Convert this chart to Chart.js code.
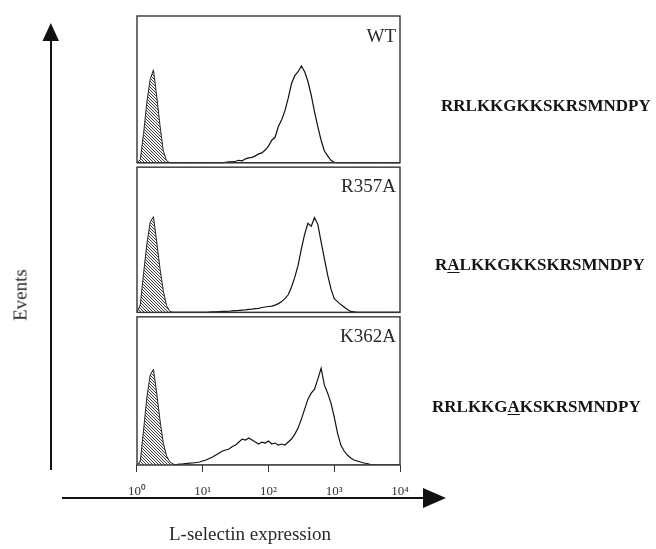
<!DOCTYPE html>
<html><head><meta charset="utf-8">
<script src="https://cdn.jsdelivr.net/npm/chart.js@4.4.1/dist/chart.umd.min.js"></script>
<style>
html,body{margin:0;padding:0;background:#fff;}
#wrap{position:relative;width:656px;height:549px;overflow:hidden;background:#fff;}
#c{position:absolute;left:0;top:0;}
.t{position:absolute;font-family:"Liberation Serif","DejaVu Serif",serif;color:#1c1c1c;line-height:1;white-space:nowrap;}
.lab{font-size:19px;color:#2a2a2a;}
.seq{font-size:17px;font-weight:bold;color:#151515;}
.seq u{text-underline-offset:2px;}
</style></head><body>
<div id="wrap">
<canvas id="c" width="656" height="549"></canvas>
<div class="t lab" style="right:260px;top:25.5px;">WT</div>
<div class="t lab" style="right:260px;top:175.5px;">R357A</div>
<div class="t lab" style="right:260px;top:325.5px;">K362A</div>
<div class="t seq" style="left:441px;top:96.5px;">RRLKKGKKSKRSMNDPY</div>
<div class="t seq" style="left:435px;top:255.5px;">R<u>A</u>LKKGKKSKRSMNDPY</div>
<div class="t seq" style="left:432px;top:397.5px;">RRLKKG<u>A</u>KSKRSMNDPY</div>
<div class="t lab" style="left:20px;top:295px;transform:translate(-50%,-50%) rotate(-90deg);">Events</div>
<div class="t lab" style="left:250px;top:533px;transform:translate(-50%,-50%);">L-selectin expression</div>
</div>
<script>
// log10 fluorescence bin positions (decades)
const bins = [0,0.05,0.1,0.15,0.2,0.25,0.3,0.35,0.4,0.45,
  0.5,0.55,0.6,0.65,0.7,0.75,0.8,0.85,0.9,0.95,
  1,1.05,1.1,1.15,1.2,1.25,1.3,1.35,1.4,1.45,
  1.5,1.55,1.6,1.65,1.7,1.75,1.8,1.85,1.9,1.95,
  2,2.05,2.1,2.15,2.2,2.25,2.3,2.35,2.4,2.45,
  2.5,2.55,2.6,2.65,2.7,2.75,2.8,2.85,2.9,2.95,
  3,3.05,3.1,3.15,3.2,3.25,3.3,3.35,3.4,3.45,
  3.5,3.55,3.6,3.65,3.7,3.75,3.8,3.85,3.9,3.95,
  4];
const tickLabels = ['10\u2070','10\u00B9','10\u00B2','10\u00B3','10\u2074'];
const panels = ['WT','R357A','K362A'];

const wtControl = [0,3,30,62,85,95,68,38,12,2,
  0,0,0,0,0,0,0,0,0,0, 0,0,0,0,0,0,0,0,0,0, 0,0,0,0,0,0,0,0,0,0,
  0,0,0,0,0,0,0,0,0,0, 0,0,0,0,0,0,0,0,0,0, 0,0,0,0,0,0,0,0,0,0,
  0,0,0,0,0,0,0,0,0,0, 0];
const wtStained = [0,0,0,0,0,0,0,0,0,0,
  0,0,0,0,0,0,0,0,0,0,
  0,0,0,0,0,0,0,0.5,1,1,
  1.5,2.5,2,4,5,5.5,7,9,10,13,
  17,23,26,37,44,53,66,81,89,93,
  99,93,83,69,52,37,23,12,7,2.5,
  0.5,0,0,0,0,0,0,0,0,0,
  0,0,0,0,0,0,0,0,0,0, 0];
const r357aControl = [0,8,40,70,92,98,72,45,22,7,
  1,0,0,0,0,0,0,0,0,0, 0,0,0,0,0,0,0,0,0,0, 0,0,0,0,0,0,0,0,0,0,
  0,0,0,0,0,0,0,0,0,0, 0,0,0,0,0,0,0,0,0,0, 0,0,0,0,0,0,0,0,0,0,
  0,0,0,0,0,0,0,0,0,0, 0];
const r357aStained = [0,0,0,0,0,0,0,0,0,0,
  0,0,0,0,0,0,0,0,0,0,
  0,0,0.3,0.5,0.5,0.8,1,1,1.2,1.5,
  1.8,2,2.3,2.6,3,3.3,3.8,4.2,5,5.5,
  6,6.5,7.5,9,11,14,18,26,36,48,
  65,80,91,88,97,90,72,55,38,24,
  14,11,8,5.5,3,1,0.5,0,0,0,
  0,0,0,0,0,0,0,0,0,0, 0];
const k362aControl = [0,4,35,68,90,96,72,45,22,9,
  3,1,0,0,0,0,0,0,0,0, 0,0,0,0,0,0,0,0,0,0, 0,0,0,0,0,0,0,0,0,0,
  0,0,0,0,0,0,0,0,0,0, 0,0,0,0,0,0,0,0,0,0, 0,0,0,0,0,0,0,0,0,0,
  0,0,0,0,0,0,0,0,0,0, 0];
const k362aStained = [0,0,0,0,0,0,0,0,0,0,
  0,0,0.5,1,1.2,1.5,1.8,2,2.5,3,
  4,5,6.5,8,10,12,14,15,16,18.5,
  20,23,26,25,27,25,23,21,23,22,
  24,21,22,20,21,20,23,26,31,37,
  46,56,66,72,76,86,97,80,72,62,
  48,32,20,14,10,7,5,4,3,2,
  1.5,0.5,0,0,0,0,0,0,0,0, 0];

// hatch pattern for the control histograms
const pc = document.createElement('canvas');
pc.width = 3; pc.height = 3;
const px = pc.getContext('2d');
px.fillStyle = '#f4f4f4'; px.fillRect(0,0,3,3);
px.strokeStyle = '#404040'; px.lineWidth = 1;
px.beginPath();
for (const k of [-3,0,3]) { px.moveTo(k,0); px.lineTo(k+3,3); }
px.stroke();
const ctx = document.getElementById('c').getContext('2d');
const hatch = ctx.createPattern(pc,'repeat');

const toPts = arr => bins.map((b,i) => ({x:b, y:arr[i]}));
const series = [
  [wtControl, wtStained, 'yTop'],
  [r357aControl, r357aStained, 'yMid'],
  [k362aControl, k362aStained, 'yBot']
];
const datasets = [];
series.forEach(([ctrl, st, axis], i) => {
  datasets.push({label: panels[i]+' control', data: toPts(ctrl), yAxisID: axis,
    borderColor:'#2a2a2a', borderWidth:1, backgroundColor: hatch, fill:'origin',
    pointRadius:0, tension:0});
  datasets.push({label: panels[i], data: toPts(st), yAxisID: axis,
    borderColor:'#111', borderWidth:1.2, fill:false, pointRadius:0, tension:0});
});

const yAxis = (min) => ({type:'linear', stack:'ev', stackWeight:1, min:min, max:150,
  ticks:{display:false}, grid:{display:false}, border:{display:false}});

const decor = {
  id:'decor',
  afterDraw(chart){
    const c = chart.ctx, a = chart.chartArea;
    c.save();
    c.strokeStyle = '#333'; c.lineWidth = 1.4;
    ['yTop','yMid','yBot'].forEach((id, i) => {
      const s = chart.scales[id];
      const top = s.top + (i === 0 ? 0 : 1.5);
      const bot = s.getPixelForValue(0);
      c.strokeRect(a.left, top, a.right - a.left, bot - top);
    });
    // vertical arrow (Events)
    c.fillStyle = '#111'; c.strokeStyle = '#111'; c.lineWidth = 2;
    c.beginPath(); c.moveTo(51, 470); c.lineTo(51, 38); c.stroke();
    c.beginPath(); c.moveTo(42.5, 41); c.lineTo(59, 41); c.lineTo(50.8, 23); c.closePath(); c.fill();
    // horizontal arrow (L-selectin expression)
    c.lineWidth = 2.2;
    c.beginPath(); c.moveTo(62, 498); c.lineTo(428, 498); c.stroke();
    c.beginPath(); c.moveTo(423, 488); c.lineTo(423, 508); c.lineTo(446, 498); c.closePath(); c.fill();
    c.restore();
  }
};

new Chart(ctx, {
  type:'line',
  data:{datasets},
  options:{
    responsive:false, animation:false, devicePixelRatio:1,
    layout:{padding:{left:129, right:256, top:16, bottom:0}},
    plugins:{legend:{display:false}, tooltip:{enabled:false}},
    scales:{
      x:{type:'linear', position:'bottom', min:0, max:4,
        ticks:{stepSize:1, padding:12, color:'#333', font:{family:'Liberation Serif', size:13},
          callback:(v) => tickLabels[Math.round(v)] ?? ''},
        grid:{display:true, drawOnChartArea:false, drawTicks:true, tickLength:7, color:'#333'},
        border:{display:false},
        afterFit:(s) => { s.height = 84; }
      },
      yBot: yAxis(0),
      yMid: yAxis(-3),
      yTop: yAxis(-3)
    }
  },
  plugins:[decor]
});
</script>
</body></html>
